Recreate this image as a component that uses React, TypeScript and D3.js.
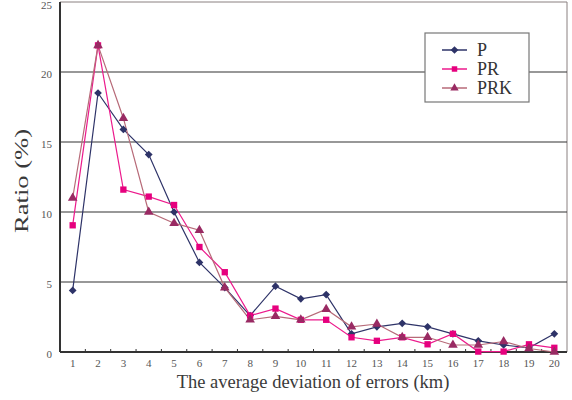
import React, { useEffect, useRef } from "react";
import * as d3 from "d3";

const categories = d3.range(1, 21).map(String);
const seriesP = [4.4, 18.5, 15.9, 14.1, 10.0, 6.4, 4.6, 2.6, 4.7, 3.8, 4.1, 1.3, 1.8, 2.05, 1.8, 1.3, 0.8, 0.5, 0.3, 1.3];
const seriesPR = [9.05, 21.9, 11.6, 11.1, 10.5, 7.5, 5.7, 2.6, 3.1, 2.3, 2.3, 1.05, 0.8, 1.05, 0.55, 1.3, 0.03, 0.03, 0.55, 0.3];
const seriesPRK = [11.0, 21.9, 16.7, 10.0, 9.2, 8.7, 4.6, 2.3, 2.55, 2.3, 3.05, 1.8, 2.0, 1.05, 1.05, 0.5, 0.5, 0.75, 0.25, 0.0];
const yTicks = [0, 5, 10, 15, 20, 25];

// small square-ish diamond like the original marker
const diamond: d3.SymbolType = {
  draw(ctx, size) {
    const r = Math.sqrt(size / 2);
    ctx.moveTo(0, -r);
    ctx.lineTo(r, 0);
    ctx.lineTo(0, r);
    ctx.lineTo(-r, 0);
    ctx.closePath();
  },
};

const series = [
  { name: "P", values: seriesP, line: "#2e3368", marker: "#2e3368", shape: diamond, size: 30 },
  { name: "PR", values: seriesPR, line: "#ec1a8c", marker: "#e6007e", shape: d3.symbolSquare, size: 40 },
  { name: "PRK", values: seriesPRK, line: "#b76a78", marker: "#992a63", shape: d3.symbolTriangle, size: 40 },
];

const W = 572, H = 400;
const margin = { top: 2, right: 5, bottom: 48, left: 60 };

export default function App() {
  const ref = useRef<SVGSVGElement>(null);

  useEffect(() => {
    const svg = d3.select(ref.current);
    svg.selectAll("*").remove();
    const iw = W - margin.left - margin.right;
    const ih = H - margin.top - margin.bottom;

    const x = d3.scaleBand().domain(categories).range([0, iw]);
    const y = d3.scaleLinear().domain([0, 25]).range([ih, 0]);

    const g = svg.append("g").attr("transform", `translate(${margin.left},${margin.top})`);

    // frame top / right
    g.append("line").attr("x1", 0).attr("x2", iw).attr("y1", 0).attr("y2", 0).attr("stroke", "#8a8080").attr("stroke-width", 1);
    g.append("line").attr("x1", iw).attr("x2", iw).attr("y1", 0).attr("y2", ih).attr("stroke", "#8a8080").attr("stroke-width", 1);

    // gridlines
    g.selectAll(".grid")
      .data(yTicks.filter(t => t > 0 && t < 25))
      .enter()
      .append("line")
      .attr("x1", 0)
      .attr("x2", iw)
      .attr("y1", d => y(d))
      .attr("y2", d => y(d))
      .attr("stroke", "#333")
      .attr("stroke-width", 1.2);

    // y labels
    g.selectAll(".ylab")
      .data(yTicks)
      .enter()
      .append("text")
      .attr("x", -8)
      .attr("y", d => y(d) + (d === 25 ? 7 : 6))
      .attr("text-anchor", "end")
      .attr("font-size", 11)
      .attr("fill", "#555")
      .text(d => d);

    // x ticks at band boundaries
    g.selectAll(".xtick")
      .data(categories.slice(1))
      .enter()
      .append("line")
      .attr("x1", d => x(d)!)
      .attr("x2", d => x(d)!)
      .attr("y1", ih)
      .attr("y2", ih - 3)
      .attr("stroke", "#333")
      .attr("stroke-width", 1);

    g.selectAll(".xlab")
      .data(categories)
      .enter()
      .append("text")
      .attr("x", d => x(d)! + x.bandwidth() / 2)
      .attr("y", ih + 15)
      .attr("text-anchor", "middle")
      .attr("font-size", 11)
      .attr("fill", "#555")
      .text(d => d);

    // axes
    g.append("line").attr("x1", 0).attr("x2", 0).attr("y1", 0).attr("y2", ih).attr("stroke", "#333").attr("stroke-width", 2);
    g.append("line").attr("x1", 0).attr("x2", iw).attr("y1", ih).attr("y2", ih).attr("stroke", "#333").attr("stroke-width", 2);

    const cx = (i: number) => x(categories[i])! + x.bandwidth() / 2;
    const line = d3.line<number>().x((_, i) => cx(i)).y(d => y(d));

    series.forEach(s => {
      g.append("path").attr("d", line(s.values)).attr("fill", "none").attr("stroke", s.line).attr("stroke-width", 1.2);
    });
    series.forEach(s => {
      const sym = d3.symbol().type(s.shape).size(s.size);
      g.selectAll(null)
        .data(s.values)
        .enter()
        .append("path")
        .attr("d", sym)
        .attr("transform", (d, i) => `translate(${cx(i)},${y(d)})`)
        .attr("fill", s.marker);
    });

    // legend
    const lg = svg.append("g").attr("transform", "translate(425,33)");
    lg.append("rect").attr("width", 104).attr("height", 69).attr("fill", "#fff").attr("stroke", "#777").attr("stroke-width", 1.2);
    series.forEach((s, i) => {
      const yy = 17 + i * 19;
      lg.append("line").attr("x1", 17).attr("x2", 42).attr("y1", yy).attr("y2", yy).attr("stroke", s.line).attr("stroke-width", 1.5);
      lg.append("path").attr("d", d3.symbol().type(s.shape).size(30)()).attr("transform", `translate(29.5,${yy})`).attr("fill", s.marker);
      lg.append("text")
        .attr("x", 52)
        .attr("y", yy + 6)
        .attr("font-size", 18)
        .attr("fill", "#333")
        .text(s.name);
    });

    // titles
    svg.append("text")
      .attr("x", 313)
      .attr("y", 388)
      .attr("text-anchor", "middle")
      .attr("font-size", 18.5)
      .attr("fill", "#3a3a3a")
      .text("The average deviation of errors (km)");

    svg.append("text")
      .attr("transform", `translate(28,181) rotate(-90)`)
      .attr("text-anchor", "middle")
      .attr("font-size", 18)
      .attr("textLength", 104)
      .attr("lengthAdjust", "spacingAndGlyphs")
      .attr("fill", "#3a3a3a")
      .text("Ratio (%)");
  }, []);

  return (
    <div style={{ position: "absolute", left: 0, top: 0 }}>
      <svg
        ref={ref}
        width={W}
        height={H}
        style={{ display: "block", background: "#fff", fontFamily: "'Liberation Serif', 'Times New Roman', Times, serif" }}
      />
    </div>
  );
}
